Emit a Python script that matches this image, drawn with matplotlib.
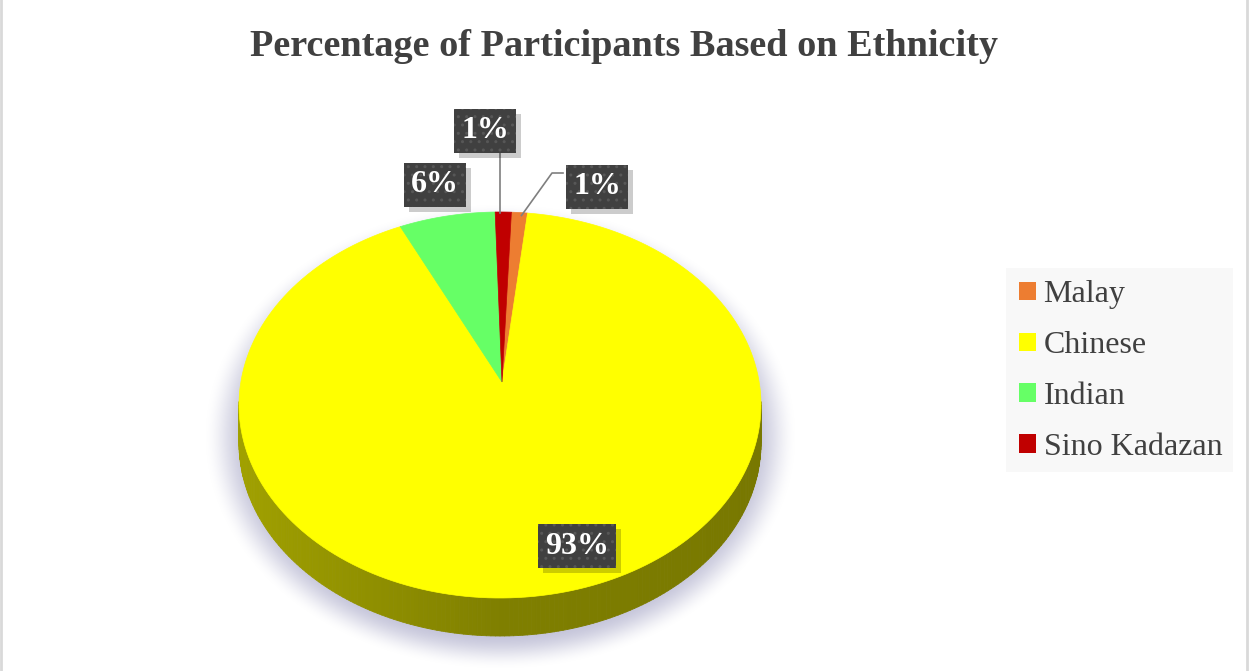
import numpy as np
import matplotlib
matplotlib.use('Agg')
import matplotlib.pyplot as plt
from matplotlib.patches import Polygon, Patch, Rectangle
from matplotlib.collections import PolyCollection

# ethnic breakdown of participants (percent)
groups = ['Malay', 'Chinese', 'Indian', 'Sino Kadazan']
shares = [1, 93, 6, 1]
colors = ['#ed7d31', '#ffff00', '#66ff66', '#c00000']

# where each percentage box sits (figure pixels, y down)
label_pos = [(597, 187), (577, 546), (435, 185), (485, 131)]

plt.rcParams['font.family'] = ['Liberation Serif', 'DejaVu Serif']
plt.rcParams['hatch.linewidth'] = 1.0

W, H = 1249, 671
fig = plt.figure(figsize=[W / 100, H / 100], dpi=100)
ax = fig.add_axes([0, 0, 1, 1])

# pie geometry in pixels
cx, cy = 500, 405
rx, ry = 261, 193
depth = 38
apex = (502, 382)

def edge(t, dy=0):
    t = np.radians(t)
    return cx + rx * np.cos(t), cy - ry * np.sin(t) + dy

# soft shadow under the pie
gx, gy = np.meshgrid(np.arange(170, 840), np.arange(190, 671))
d = np.sqrt(((gx - 500) / 280) ** 2 + ((gy - 436) / 220) ** 2)
a = np.clip((1.06 - d) / 0.16, 0, 1)
a = a * a * (3 - 2 * a) * 0.8
shadow = np.zeros(gx.shape + (4,))
shadow[..., 0] = 0.72
shadow[..., 1] = 0.72
shadow[..., 2] = 0.82
shadow[..., 3] = a
ax.imshow(shadow, extent=[170, 840, 671, 190], interpolation='bilinear', zorder=1)
ax.set_xlim(0, W)
ax.set_ylim(H, 0)
ax.axis('off')

fracs = np.array(shares, dtype=float) / sum(shares)
start = 87.5
bounds = start - np.concatenate([[0], np.cumsum(fracs)]) * 360

# side wall (front half only), shaded strips
strips, strip_cols = [], []
for i, col in enumerate(colors):
    hi, lo = bounds[i], bounds[i + 1]
    base = np.array(matplotlib.colors.to_rgb(col))
    for t0 in np.arange(np.floor(lo), hi, 1.0):
        a0, a1 = max(t0, lo), min(t0 + 1, hi)
        tm = (a0 + a1) / 2
        if np.sin(np.radians(tm)) > 0.02:
            continue
        c = np.cos(np.radians(tm))
        shade = 0.50 + 0.13 * max(0.0, -c) - 0.03 * max(0.0, c)
        p0, p1 = edge(a0), edge(a1)
        q0, q1 = edge(a0, depth), edge(a1, depth)
        strips.append([p0, p1, q1, q0])
        strip_cols.append(base * shade)
ax.add_collection(PolyCollection(strips, facecolors=strip_cols, edgecolors=strip_cols,
                                 linewidths=0.6, zorder=2))

# top face slices
for i, col in enumerate(colors):
    ts = np.linspace(bounds[i], bounds[i + 1], 200)
    pts = [apex] + [edge(t) for t in ts]
    ax.add_patch(Polygon(pts, closed=True, facecolor=col, edgecolor=col,
                         linewidth=0.5, zorder=3))

# leader lines for the two thin slices
mid = (bounds[:-1] + bounds[1:]) / 2
mx, my = edge(mid[0])
ax.plot([mx + 2, 552, 563], [my + 3, 173, 173], color='#7f7f7f', lw=1.2, zorder=4)
sx, sy = edge(mid[3])
ax.plot([sx - 3, sx - 3], [sy + 1, 153], color='#7f7f7f', lw=1.2, zorder=4)

# percentage boxes
labels = []
for (lx, ly), v in zip(label_pos, shares):
    t = ax.text(lx, ly, f'{v}%', fontsize=23, fontweight='bold', color='white',
                ha='center', va='center', zorder=6,
                bbox=dict(boxstyle='square,pad=0.22', facecolor='#404040',
                          edgecolor='#575757', hatch='..', linewidth=0))
    labels.append(t)

# drop shadow behind each box
fig.canvas.draw()
inv = ax.transData.inverted()
for t in labels:
    ext = t.get_bbox_patch().get_window_extent()
    (x0, y0), (x1, y1) = inv.transform([[ext.x0, ext.y0], [ext.x1, ext.y1]])
    ax.add_patch(Rectangle((min(x0, x1) + 5, min(y0, y1) + 5), abs(x1 - x0), abs(y1 - y0),
                           facecolor='black', alpha=0.2, linewidth=0, zorder=5))

fig.text(0.5, 1 - 47 / H, 'Percentage of Participants Based on Ethnicity',
         ha='center', va='center', fontsize=27.5, fontweight='bold', color='#404040')

# legend panel
ax.add_patch(Rectangle((1006, 268), 227, 204, facecolor='#f8f8f8', linewidth=0, zorder=1))
handles = [Patch(facecolor=c, edgecolor='none') for c in colors]
leg = fig.legend(handles, groups, loc='center left',
                 bbox_to_anchor=(1019 / W, 1 - 371 / H), fontsize=23,
                 frameon=False, handlelength=0.52, handleheight=0.52, handletextpad=0.25,
                 labelspacing=0.68, borderpad=0, borderaxespad=0)
for t in leg.get_texts():
    t.set_color('#404040')

# thin outer frame
ax.plot([1, 1], [0, H], color='#d9d9d9', lw=2)
ax.plot([W - 1.5, W - 1.5], [0, H], color='#d9d9d9', lw=2)

plt.savefig('out.png', dpi=100)
